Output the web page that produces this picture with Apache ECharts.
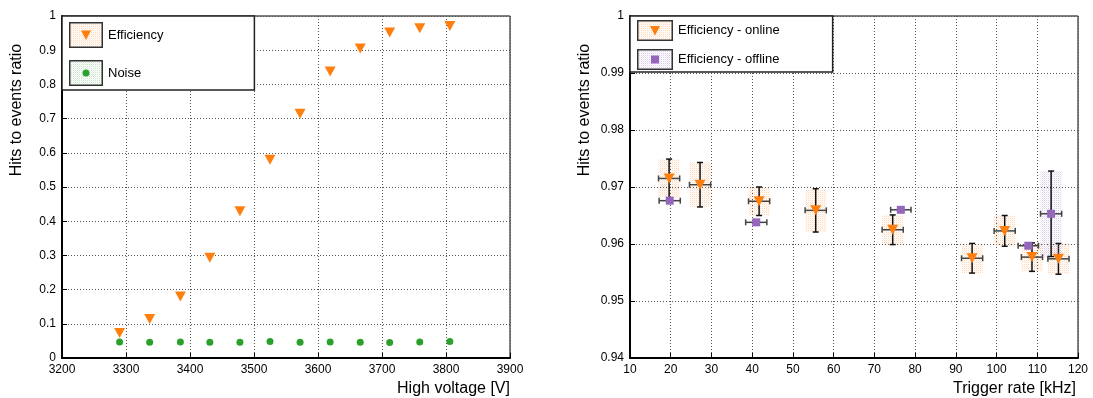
<!DOCTYPE html>
<html>
<head>
<meta charset="utf-8">
<script src="https://cdn.jsdelivr.net/npm/echarts@6/dist/echarts.min.js"></script>
<style>
  html, body { margin: 0; padding: 0; background: #fff; }
  #chart { width: 1093px; height: 398px; }
</style>
</head>
<body>
<div id="chart"></div>
<script>
// left panel: efficiency / noise vs high voltage
const voltage = [3290, 3337, 3385, 3431, 3478, 3525, 3572, 3619, 3666, 3712, 3759, 3806];
const efficiency = [0.073, 0.114, 0.180, 0.293, 0.429, 0.580, 0.714, 0.838, 0.905, 0.952, 0.964, 0.971];
const noise = [0.047, 0.046, 0.047, 0.046, 0.046, 0.048, 0.046, 0.047, 0.046, 0.045, 0.047, 0.048];

// right panel: efficiency vs trigger rate
const onlineRate = [19.6, 27.2, 41.7, 55.6, 74.5, 94.0, 102.0, 108.7, 115.2];
const onlineRateErr = [2.6, 2.6, 2.6, 2.6, 2.6, 2.6, 2.6, 2.6, 2.6];
const onlineEff = [0.9715, 0.9704, 0.9675, 0.9659, 0.9625, 0.9575, 0.9623, 0.9577, 0.9574];
const onlineEffErr = [0.0034, 0.0039, 0.0025, 0.0038, 0.0026, 0.0026, 0.0027, 0.0025, 0.0027];

const offlineRate = [19.75, 41.0, 76.5, 107.8, 113.4];
const offlineRateErr = [2.6, 2.6, 2.5, 2.5, 2.6];
const offlineEff = [0.9676, 0.9638, 0.9660, 0.9597, 0.9653];
const offlineEffErr = [0.0002, 0.0002, 0.0002, 0.0002, 0.0075];

const ORANGE = '#ff7f0e';
const GREEN = '#2ca02c';
const PURPLE = '#9467bd';
const FONT = '"Liberation Sans", Arial, sans-serif';

// small dotted hatch used for the error boxes
function dotPattern(rgb) {
  const c = document.createElement('canvas');
  c.width = 2; c.height = 2;
  const g = c.getContext('2d');
  g.fillStyle = 'rgba(' + rgb + ',0.38)';
  g.fillRect(0, 0, 1, 1);
  g.fillStyle = 'rgba(' + rgb + ',0.14)';
  g.fillRect(1, 1, 1, 1);
  return c;
}
const orangeDots = dotPattern('255,150,70');
const purpleDots = dotPattern('160,130,205');
const greenDots = dotPattern('110,185,110');

function legendIcon(w, h, dots, color, shape) {
  const c = document.createElement('canvas');
  c.width = w; c.height = h;
  const g = c.getContext('2d');
  g.fillStyle = '#fff';
  g.fillRect(0, 0, w, h);
  g.fillStyle = g.createPattern(dots, 'repeat');
  g.fillRect(0, 0, w, h);
  g.strokeStyle = '#333';
  g.lineWidth = 1.5;
  g.strokeRect(0.75, 0.75, w - 1.5, h - 1.5);
  g.fillStyle = color;
  const cx = w / 2, cy = h / 2;
  g.beginPath();
  if (shape === 'tri') {
    g.moveTo(cx - 5, cy - 4.5); g.lineTo(cx + 5, cy - 4.5); g.lineTo(cx, cy + 5);
  } else if (shape === 'circle') {
    g.arc(cx, cy, 3.5, 0, Math.PI * 2);
  } else {
    g.rect(cx - 4, cy - 4, 8, 8);
  }
  g.closePath();
  g.fill();
  return 'image://' + c.toDataURL();
}

function errorBox(dots) {
  return function (params, api) {
    const x = api.value(0), xe = api.value(1), y = api.value(2), ye = api.value(3);
    const p0 = api.coord([x - xe, y + ye]);
    const p1 = api.coord([x + xe, y - ye]);
    const c = api.coord([x, y]);
    const cap = 3;
    return {
      type: 'group',
      children: [
        { type: 'rect', shape: { x: p0[0], y: p0[1], width: p1[0] - p0[0], height: p1[1] - p0[1] },
          style: { fill: { image: dots, repeat: 'repeat' } } },
        { type: 'line', shape: { x1: p0[0], y1: c[1], x2: p1[0], y2: c[1] }, style: { stroke: '#444', lineWidth: 1.5 } },
        { type: 'line', shape: { x1: p0[0], y1: c[1] - cap, x2: p0[0], y2: c[1] + cap }, style: { stroke: '#444', lineWidth: 1.5 } },
        { type: 'line', shape: { x1: p1[0], y1: c[1] - cap, x2: p1[0], y2: c[1] + cap }, style: { stroke: '#444', lineWidth: 1.5 } },
        { type: 'line', shape: { x1: c[0], y1: p0[1], x2: c[0], y2: p1[1] }, style: { stroke: '#111', lineWidth: 1.5 } },
        { type: 'line', shape: { x1: c[0] - cap, y1: p0[1], x2: c[0] + cap, y2: p0[1] }, style: { stroke: '#111', lineWidth: 1.5 } },
        { type: 'line', shape: { x1: c[0] - cap, y1: p1[1], x2: c[0] + cap, y2: p1[1] }, style: { stroke: '#111', lineWidth: 1.5 } }
      ]
    };
  };
}

const zip = (a, b) => a.map((v, i) => [v, b[i]]);
const zip4 = (a, b, c, d) => a.map((v, i) => [v, b[i], c[i], d[i]]);
const fmt = v => String(+v.toFixed(2));

function valueAxis(extra) {
  return Object.assign({
    type: 'value',
    axisLine: { show: true, onZero: false, lineStyle: { color: '#000', width: 2 } },
    axisTick: { show: true, inside: true, length: 5, lineStyle: { color: '#000' } },
    axisLabel: { color: '#000', fontFamily: FONT, fontSize: 12, margin: 6, formatter: fmt },
    splitLine: { show: true, lineStyle: { color: '#555', type: [1, 2] } }
  }, extra);
}

// x titles sit under the right end of the axis, y titles in the upper half
const xTitle = pad => ({ color: '#000', fontFamily: FONT, fontSize: 16, verticalAlign: 'top', padding: [0, 0, 0, pad] });
const yTitle = { color: '#000', fontFamily: FONT, fontSize: 16, padding: [0, 0, 0, 154] };

const chart = echarts.init(document.getElementById('chart'));
chart.setOption({
  animation: false,
  grid: [
    { left: 62, top: 16, width: 448, height: 342, show: true, borderColor: '#000', borderWidth: 1,
      containLabel: false, outerBoundsMode: 'none' },
    { left: 630, top: 16, width: 448, height: 342, show: true, borderColor: '#000', borderWidth: 1,
      containLabel: false, outerBoundsMode: 'none' }
  ],
  xAxis: [
    valueAxis({ gridIndex: 0, min: 3200, max: 3900, interval: 100, name: 'High voltage [V]',
      nameLocation: 'middle', nameGap: 21, nameTextStyle: xTitle(335),
      axisLabel: { color: '#000', fontFamily: FONT, fontSize: 12, margin: 6, formatter: v => String(v) } }),
    valueAxis({ gridIndex: 1, min: 10, max: 120, interval: 10, name: 'Trigger rate [kHz]',
      nameLocation: 'middle', nameGap: 21, nameTextStyle: xTitle(321),
      axisLabel: { color: '#000', fontFamily: FONT, fontSize: 12, margin: 6, formatter: v => String(v) } })
  ],
  yAxis: [
    valueAxis({ gridIndex: 0, min: 0, max: 1, interval: 0.1, name: 'Hits to events ratio',
      nameLocation: 'middle', nameGap: 37, nameTextStyle: yTitle }),
    valueAxis({ gridIndex: 1, min: 0.94, max: 1, interval: 0.01, name: 'Hits to events ratio',
      nameLocation: 'middle', nameGap: 37, nameTextStyle: yTitle })
  ],
  legend: [
    {
      left: 62, top: 16, orient: 'vertical',
      padding: [6, 91, 4, 7], itemGap: 12, itemWidth: 34, itemHeight: 26,
      backgroundColor: '#fff', borderColor: '#222', borderWidth: 1.5,
      textStyle: { color: '#000', fontFamily: FONT, fontSize: 13 },
      data: [
        { name: 'Efficiency', icon: legendIcon(34, 26, orangeDots, ORANGE, 'tri') },
        { name: 'Noise', icon: legendIcon(34, 26, greenDots, GREEN, 'circle') }
      ]
    },
    {
      left: 630, top: 16, orient: 'vertical',
      padding: [4, 53, 2, 7], itemGap: 8, itemWidth: 36, itemHeight: 21,
      backgroundColor: '#fff', borderColor: '#222', borderWidth: 1.5,
      textStyle: { color: '#000', fontFamily: FONT, fontSize: 13 },
      data: [
        { name: 'Efficiency - online', icon: legendIcon(36, 21, orangeDots, ORANGE, 'tri') },
        { name: 'Efficiency - offline', icon: legendIcon(36, 21, purpleDots, PURPLE, 'rect') }
      ]
    }
  ],
  series: [
    { name: 'Efficiency', type: 'scatter', xAxisIndex: 0, yAxisIndex: 0,
      symbol: 'triangle', symbolRotate: 180, symbolSize: [11, 10],
      itemStyle: { color: ORANGE, opacity: 1 }, data: zip(voltage, efficiency) },
    { name: 'Noise', type: 'scatter', xAxisIndex: 0, yAxisIndex: 0,
      symbol: 'circle', symbolSize: 7,
      itemStyle: { color: GREEN, opacity: 1 }, data: zip(voltage, noise) },
    { name: 'online errors', type: 'custom', xAxisIndex: 1, yAxisIndex: 1,
      renderItem: errorBox(orangeDots), encode: { x: 0, y: 2 },
      data: zip4(onlineRate, onlineRateErr, onlineEff, onlineEffErr) },
    { name: 'offline errors', type: 'custom', xAxisIndex: 1, yAxisIndex: 1,
      renderItem: errorBox(purpleDots), encode: { x: 0, y: 2 },
      data: zip4(offlineRate, offlineRateErr, offlineEff, offlineEffErr) },
    { name: 'Efficiency - online', type: 'scatter', xAxisIndex: 1, yAxisIndex: 1, z: 5,
      symbol: 'triangle', symbolRotate: 180, symbolSize: [11, 10],
      itemStyle: { color: ORANGE, opacity: 1 }, data: zip(onlineRate, onlineEff) },
    { name: 'Efficiency - offline', type: 'scatter', xAxisIndex: 1, yAxisIndex: 1, z: 5,
      symbol: 'rect', symbolSize: 8,
      itemStyle: { color: PURPLE, opacity: 1 }, data: zip(offlineRate, offlineEff) }
  ]
});
</script>
</body>
</html>
